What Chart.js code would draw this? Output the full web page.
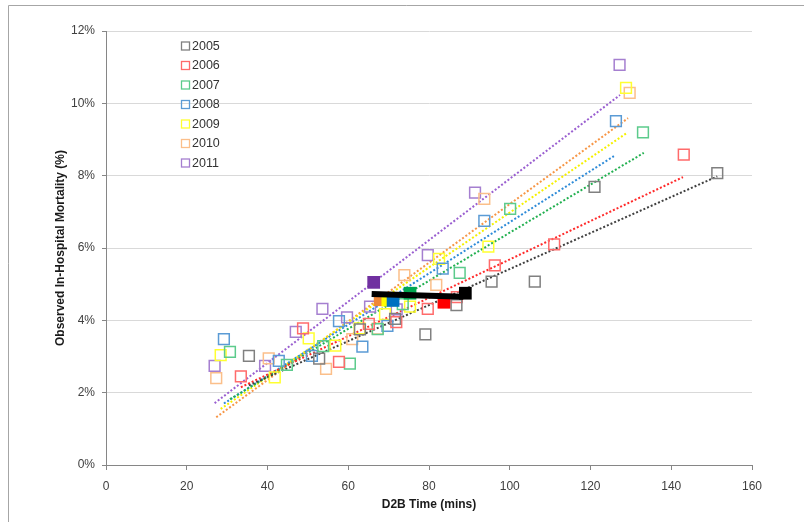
<!DOCTYPE html>
<html>
<head>
<meta charset="utf-8">
<script src="https://cdn.jsdelivr.net/npm/chart.js@4"></script>
<style>
  body { margin: 0; background: #fff; }
  canvas { display: block; }
</style>
</head>
<body>
<canvas id="mortalityChart" width="804" height="522"></canvas>
<script>
    // decile points per year (D2B mins, mortality %)
    const years = ['2005', '2006', '2007', '2008', '2009', '2010', '2011'];

    const d2b2005 = [35.4, 52.8, 62.9, 71.6, 79.1, 86.8, 95.5, 106.2, 121.0, 151.4];
    const mort2005 = [3.02, 2.94, 3.75, 4.04, 3.61, 4.42, 5.07, 5.07, 7.69, 8.07];
    const d2b2006 = [33.4, 48.8, 57.7, 65.1, 71.9, 79.7, 86.9, 96.3, 111.0, 143.1];
    const mort2006 = [2.45, 3.78, 2.85, 3.90, 3.95, 4.32, 4.64, 5.52, 6.10, 8.58];
    const d2b2007 = [30.7, 44.8, 53.8, 60.4, 67.3, 73.5, 87.6, 100.1, 133.0];
    const mort2007 = [3.13, 2.77, 3.29, 2.80, 3.76, 4.45, 5.31, 7.08, 9.20];
    const d2b2008 = [29.2, 42.8, 51.0, 57.7, 63.5, 69.7, 83.4, 93.7, 126.3];
    const mort2008 = [3.48, 2.88, 3.02, 3.98, 3.27, 3.85, 5.43, 6.75, 9.51];
    const d2b2009 = [28.4, 41.8, 50.2, 56.8, 62.8, 69.1, 75.3, 82.5, 94.7, 128.8];
    const mort2009 = [3.04, 2.42, 3.50, 3.30, 3.78, 4.17, 4.38, 5.70, 6.04, 10.43];
    const d2b2010 = [27.3, 40.3, 54.5, 61.0, 67.3, 73.9, 81.8, 93.7, 129.7];
    const mort2010 = [2.40, 2.95, 2.66, 3.48, 3.77, 5.25, 4.98, 7.36, 10.29];
    const d2b2011 = [26.9, 39.4, 47.0, 53.6, 59.7, 65.4, 72.0, 79.7, 91.4, 127.2];
    const mort2011 = [2.74, 2.74, 3.68, 4.32, 4.08, 4.38, 4.30, 5.80, 7.53, 11.06];

    const d2bByYear = [d2b2005, d2b2006, d2b2007, d2b2008, d2b2009, d2b2010, d2b2011];
    const mortByYear = [mort2005, mort2006, mort2007, mort2008, mort2009, mort2010, mort2011];

    // yearly means (filled squares)
    const meanD2B = [89.0, 83.7, 75.3, 71.1, 69.8, 67.9, 66.3];
    const meanMort = [4.75, 4.50, 4.75, 4.55, 4.56, 4.57, 5.05];

    // trend line of the means (thick black)
    const meanFitX = [65.8, 88.5];
    const meanFitY = [4.73, 4.65];

    // per-year trend lines, start and end
    const trendX0 = [35.4, 33.4, 30.7, 29.2, 28.4, 27.3, 26.9];
    const trendY0 = [2.20, 2.15, 1.82, 1.70, 1.55, 1.32, 1.71];
    const trendX1 = [151.4, 142.9, 133.2, 125.8, 129.0, 129.3, 127.3];
    const trendY1 = [7.98, 7.96, 8.63, 8.54, 9.18, 9.59, 10.23];

    const xTicks = [0, 20, 40, 60, 80, 100, 120, 140, 160];
    const yTicks = [0, 2, 4, 6, 8, 10, 12];

    const hollowColors = ['#808080', '#ff6b6b', '#5ccb8c', '#5b9bd5', '#ffff30', '#fbbf8a', '#a57fd0'];
    const trendColors = ['#404040', '#ff2a2a', '#22b050', '#2e8bd8', '#f5f000', '#f79646', '#9a5fd0'];
    const meanColors = ['#000000', '#ff0000', '#00a650', '#0070c0', '#ffff00', '#f0883a', '#7030a0'];

    const datasets = [];

    years.forEach((yr, i) => {
        datasets.push({
            type: 'line',
            label: 'trend ' + yr,
            data: [{ x: trendX0[i], y: trendY0[i] }, { x: trendX1[i], y: trendY1[i] }],
            borderColor: trendColors[i],
            borderWidth: 2,
            borderDash: [2, 2],
            pointRadius: 0,
            fill: false,
            order: 3
        });
        datasets.push({
            type: 'scatter',
            label: yr,
            data: d2bByYear[i].map((x, k) => ({ x: x, y: mortByYear[i][k] })),
            pointStyle: 'rect',
            pointRadius: 7.6,
            borderWidth: 1.5,
            borderColor: hollowColors[i],
            backgroundColor: 'rgba(0,0,0,0)',
            order: 2
        });
        datasets.push({
            type: 'scatter',
            label: 'mean ' + yr,
            data: [{ x: meanD2B[i], y: meanMort[i] }],
            pointStyle: 'rect',
            pointRadius: 9,
            borderWidth: 0,
            backgroundColor: meanColors[i],
            order: 1
        });
    });

    datasets.push({
        type: 'line',
        label: 'mean trend',
        data: meanFitX.map((x, k) => ({ x: x, y: meanFitY[k] })),
        borderColor: '#000000',
        borderWidth: 6,
        pointRadius: 0,
        fill: false,
        order: 0
    });

    // legend + outer frame, drawn by hand so it sits inside the plot like the original
    const legendFrame = {
        id: 'legendFrame',
        afterDraw(chart) {
            const ctx = chart.ctx;
            ctx.save();
            ctx.strokeStyle = '#a6a6a6';
            ctx.lineWidth = 1;
            ctx.beginPath();
            ctx.moveTo(8.5, 522);
            ctx.lineTo(8.5, 5.5);
            ctx.lineTo(804, 5.5);
            ctx.stroke();

            ctx.font = '12.5px "Liberation Sans", Arial, sans-serif';
            ctx.textBaseline = 'middle';
            ctx.textAlign = 'left';
            years.forEach((yr, i) => {
                const y = 46 + i * 19.5;
                ctx.strokeStyle = hollowColors[i];
                ctx.lineWidth = 1.3;
                ctx.strokeRect(181.5, y - 4, 8, 8);
                ctx.fillStyle = '#333333';
                ctx.fillText(yr, 192, y + 0.5);
            });
            ctx.restore();
        }
    };

    const ctx = document.getElementById('mortalityChart').getContext('2d');
    const mortalityChart = new Chart(ctx, {
        data: { datasets: datasets },
        options: {
            responsive: false,
            animation: false,
            layout: { padding: { top: 31, right: 52, left: 0, bottom: 0 } },
            plugins: {
                legend: { display: false },
                tooltip: { enabled: false }
            },
            scales: {
                x: {
                    type: 'linear',
                    min: 0,
                    max: 160,
                    afterBuildTicks: axis => { axis.ticks = xTicks.map(v => ({ value: v })); },
                    ticks: {
                        color: '#404040',
                        font: { family: '"Liberation Sans", Arial, sans-serif', size: 12 },
                        padding: 9
                    },
                    grid: { drawOnChartArea: false, tickLength: 5, tickColor: '#868686' },
                    border: { color: '#868686' },
                    title: {
                        display: true,
                        text: 'D2B Time (mins)',
                        color: '#1a1a1a',
                        font: { family: '"Liberation Sans", Arial, sans-serif', size: 12, weight: 'bold' },
                        padding: { top: 0, bottom: 10 }
                    },
                    afterFit: scale => { scale.height = 57; }
                },
                y: {
                    type: 'linear',
                    min: 0,
                    max: 12,
                    afterBuildTicks: axis => { axis.ticks = yTicks.map(v => ({ value: v })); },
                    ticks: {
                        color: '#404040',
                        font: { family: '"Liberation Sans", Arial, sans-serif', size: 12 },
                        padding: 7,
                        callback: v => v + '%'
                    },
                    grid: { color: '#d9d9d9', tickLength: 4, tickColor: '#868686' },
                    border: { color: '#868686' },
                    title: {
                        display: true,
                        text: 'Observed In-Hospital Mortality (%)',
                        color: '#1a1a1a',
                        font: { family: '"Liberation Sans", Arial, sans-serif', size: 12, weight: 'bold' },
                        padding: { top: 53, bottom: 0 }
                    },
                    afterFit: scale => { scale.width = 106; }
                }
            }
        },
        plugins: [legendFrame]
    });
</script>
</body>
</html>
